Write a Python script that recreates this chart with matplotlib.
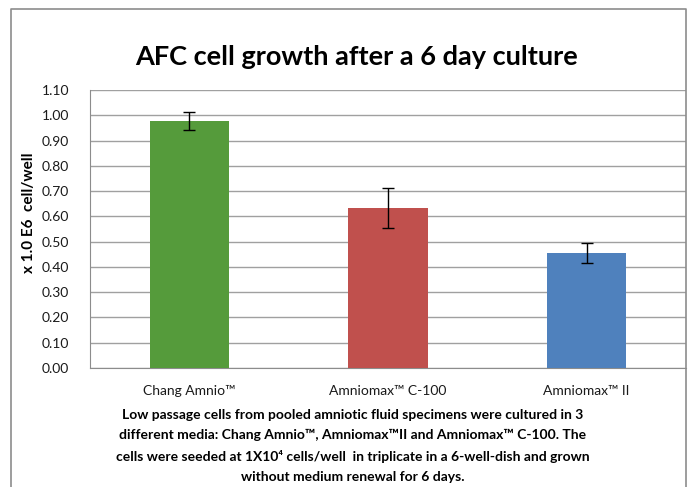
import matplotlib
matplotlib.use("Agg")
import matplotlib.pyplot as plt
import numpy as np

# data
media = ["Chang Amnio™", "Amniomax™ C-100", "Amniomax™ II"]
cells = [0.976, 0.632, 0.455]
err = [0.035, 0.080, 0.039]
bar_colors = ["#559B3B", "#C0504D", "#4F81BD"]
yticks = np.arange(0, 1.101, 0.1)

caption = ("Low passage cells from pooled amniotic fluid specimens were cultured in 3\n"
           "different media: Chang Amnio™, Amniomax™II and Amniomax™ C-100. The\n"
           "cells were seeded at 1X10⁴ cells/well  in triplicate in a 6-well-dish and grown\n"
           "without medium renewal for 6 days.")

plt.rcParams['font.family'] = ['Lato', 'DejaVu Sans']

W, H = 691, 487
fig = plt.figure(figsize=(W / 100, H / 100), dpi=100)

# outer chart border
fig.add_artist(plt.Line2D([11 / W, 11 / W, 686 / W, 686 / W],
                          [0, 1 - 9 / H, 1 - 9 / H, 0],
                          transform=fig.transFigure, color="#8c8c8c", lw=1.2))

ax = fig.add_axes([90 / W, 1 - 368 / H, 596 / W, 278 / H])
x = np.arange(len(media))
ax.bar(x, cells, width=0.4, color=bar_colors, zorder=3)
ax.errorbar(x, cells, yerr=err, fmt="none", ecolor="black", elinewidth=1,
            capsize=4, capthick=1, zorder=4)

ax.set_xlim(-0.5, 2.5)
ax.set_ylim(0, 1.1)
ax.set_yticks(yticks)
ax.set_yticklabels(["%.2f" % v for v in yticks])
ax.yaxis.grid(True, color="#a0a0a0", lw=1, zorder=0)
ax.set_xticks(x)
ax.set_xticklabels(media)
ax.tick_params(axis="y", length=0, pad=15, labelsize=10, labelcolor="#1a1a1a")
ax.tick_params(axis="x", length=0, pad=12, labelsize=10, labelcolor="#1a1a1a")
for s in ["top", "right"]:
    ax.spines[s].set_visible(False)
for s in ["left", "bottom"]:
    ax.spines[s].set_color("#8c8c8c")

fig.text(357 / W, 1 - 57 / H, "AFC cell growth after a 6 day culture",
         ha="center", va="center", fontsize=19.5, fontweight="bold")
fig.text(29 / W, 1 - 213 / H, "x 1.0 E6  cell/well", rotation=90,
         ha="center", va="center", fontsize=11, fontweight="bold")
fig.text(353 / W, 1 - 446 / H, caption, ha="center", va="center",
         fontsize=10, fontweight="bold", linespacing=1.8)

fig.savefig("out.png", dpi=100)
